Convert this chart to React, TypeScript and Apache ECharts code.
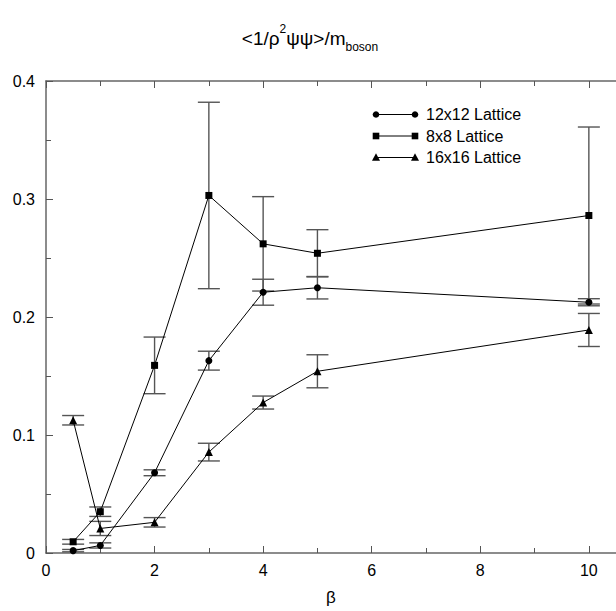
import React, { useEffect, useRef } from "react";
import * as echarts from "echarts";

const betas = [0.5, 1, 2, 3, 4, 5, 10];
const seriesNames = ["12x12 Lattice", "8x8 Lattice", "16x16 Lattice"];
const val12 = [0.002, 0.0064, 0.068, 0.163, 0.221, 0.2248, 0.2125];
const err12 = [0.001, 0.0022, 0.0025, 0.008, 0.011, 0.0095, 0.003];
const val8 = [0.0095, 0.035, 0.159, 0.303, 0.262, 0.254, 0.286];
const err8 = [0.002, 0.004, 0.024, 0.079, 0.04, 0.02, 0.075];
const val16 = [0.1125, 0.0208, 0.026, 0.0855, 0.1275, 0.154, 0.189];
const err16 = [0.004, 0.006, 0.004, 0.0075, 0.0055, 0.014, 0.014];
const symbols = ["circle", "rect", "triangle"];
const symbolSizes = [7, 7, 8];

const FONT = "Liberation Sans, Arial, sans-serif";

export default function App() {
  const ref = useRef<HTMLDivElement>(null);
  useEffect(() => {
    const chart = echarts.init(ref.current!, null, { renderer: "svg" });
    const vals = [val12, val8, val16];
    const errs = [err12, err8, err16];

    const errSeries = vals.map((v, si) => ({
      type: "custom",
      name: seriesNames[si] + " err",
      z: 1,
      silent: true,
      clip: false,
      data: betas.map((b, i) => [b, v[i], errs[si][i]]),
      renderItem: (params: any, api: any) => {
        const x = api.value(0);
        const y = api.value(1);
        const e = api.value(2);
        const top = api.coord([x, y + e]);
        const bot = api.coord([x, y - e]);
        const hw = 11;
        const style = { stroke: "#555", lineWidth: 1.4 };
        return {
          type: "group",
          children: [
            { type: "line", shape: { x1: top[0], y1: top[1], x2: bot[0], y2: bot[1] }, style },
            { type: "line", shape: { x1: top[0] - hw, y1: top[1], x2: top[0] + hw, y2: top[1] }, style },
            { type: "line", shape: { x1: bot[0] - hw, y1: bot[1], x2: bot[0] + hw, y2: bot[1] }, style },
          ],
        };
      },
    }));

    const lineSeries = vals.map((v, si) => ({
      type: "line",
      name: seriesNames[si],
      z: 3,
      data: betas.map((b, i) => [b, v[i]]),
      symbol: symbols[si],
      symbolSize: symbolSizes[si],
      showAllSymbol: true,
      lineStyle: { color: "#000", width: 1 },
      itemStyle: { color: "#000" },
    }));

    const legendChildren: any[] = [];
    seriesNames.forEach((name, i) => {
      const y = 114.5 + i * 21.5;
      const x1 = 376;
      const x2 = 415;
      legendChildren.push({
        type: "line",
        shape: { x1, y1: y, x2, y2: y },
        style: { stroke: "#000", lineWidth: 1 },
      });
      [x1, x2].forEach((x) => {
        if (symbols[i] === "circle") {
          legendChildren.push({ type: "circle", shape: { cx: x, cy: y, r: 3.3 }, style: { fill: "#000" } });
        } else if (symbols[i] === "rect") {
          legendChildren.push({ type: "rect", shape: { x: x - 3.3, y: y - 3.3, width: 6.6, height: 6.6 }, style: { fill: "#000" } });
        } else {
          legendChildren.push({
            type: "polygon",
            shape: { points: [[x, y - 4.2], [x - 4, y + 3.3], [x + 4, y + 3.3]] },
            style: { fill: "#000" },
          });
        }
      });
      legendChildren.push({
        type: "text",
        x: 426,
        y,
        style: { text: name, font: `16px ${FONT}`, fill: "#000", verticalAlign: "middle", textAlign: "left" },
      });
    });

    const axisLineStyle = { color: "#666", width: 1.5 };
    const base = { fontFamily: FONT, color: "#000", fontWeight: "normal", lineHeight: 30 };

    chart.setOption({
      animation: false,
      backgroundColor: "#fff",
      title: {
        text: "{a|<1/ρ}{sup|2}{a|ψψ>/m}{sub|boson}",
        left: 305,
        textAlign: "center",
        top: 18,
        textStyle: {
          fontWeight: "normal",
          rich: {
            a: { ...base, fontSize: 19, verticalAlign: "middle" },
            sup: { ...base, fontSize: 12, verticalAlign: "top" },
            sub: { ...base, fontSize: 12, verticalAlign: "bottom" },
          },
        },
      },
      grid: { left: 46, top: 81, width: 576, height: 480 },
      xAxis: [
        {
          type: "value",
          min: 0,
          max: 10.5,
          interval: 2,
          name: "β",
          nameLocation: "middle",
          nameGap: 36,
          nameTextStyle: { fontSize: 17, fontFamily: FONT, color: "#000" },
          axisLine: { lineStyle: axisLineStyle },
          axisTick: { inside: true, length: 7, lineStyle: { color: "#555" } },
          minorTick: { show: true, splitNumber: 2, length: 5, lineStyle: { color: "#555" } },
          splitLine: { show: false },
          axisLabel: { fontSize: 16, fontFamily: FONT, color: "#000", margin: 9, showMaxLabel: false },
        },
        {
          type: "value",
          position: "top",
          min: 0,
          max: 10.5,
          interval: 2,
          axisLine: { lineStyle: axisLineStyle },
          axisTick: { inside: true, length: 7, lineStyle: { color: "#555" } },
          minorTick: { show: true, splitNumber: 2, length: 5, lineStyle: { color: "#555" } },
          splitLine: { show: false },
          axisLabel: { show: false },
        },
      ],
      yAxis: [
        {
          type: "value",
          min: 0,
          max: 0.4,
          interval: 0.1,
          axisLine: { show: true, lineStyle: axisLineStyle },
          axisTick: { show: true, inside: true, length: 7, lineStyle: { color: "#555" } },
          minorTick: { show: true, splitNumber: 2, length: 5, lineStyle: { color: "#555" } },
          splitLine: { show: false },
          axisLabel: {
            fontSize: 16,
            fontFamily: FONT,
            color: "#000",
            margin: 11,
            formatter: (v: number) => (v === 0 ? "0" : v.toFixed(1)),
          },
        },
      ],
      series: [...errSeries, ...lineSeries],
      graphic: legendChildren,
    });
    return () => chart.dispose();
  }, []);
  return (
    <div
      ref={ref}
      style={{ position: "fixed", left: 0, top: 0, width: 616, height: 611 }}
    />
  );
}
